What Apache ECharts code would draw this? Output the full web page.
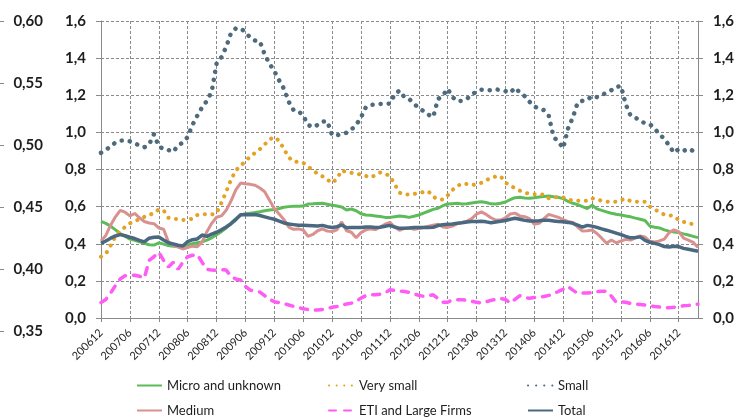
<!DOCTYPE html>
<html>
<head>
<meta charset="utf-8">
<script src="https://cdn.jsdelivr.net/npm/echarts@6/dist/echarts.min.js"></script>
<style>html,body{margin:0;padding:0;background:#fff}#c{width:737px;height:418px}</style>
</head>
<body>
<div id="c"></div>
<script>
// Categories: monthly, 200612 .. 201704
var categories = [];
(function(){ var y=2006,m=12; for(var i=0;i<125;i++){ categories.push(String(y)+(m<10?'0':'')+m); m++; if(m>12){m=1;y++;} } })();

var microUnknown = [0.52,0.51,0.495,0.475,0.455,0.44,0.425,0.418,0.41,0.402,0.395,0.393,0.405,0.398,0.39,0.387,0.385,0.387,0.393,0.4,0.405,0.41,0.42,0.432,0.448,0.465,0.485,0.51,0.535,0.555,0.56,0.565,0.568,0.572,0.578,0.582,0.584,0.59,0.597,0.6,0.602,0.602,0.603,0.614,0.615,0.617,0.618,0.613,0.607,0.603,0.598,0.582,0.587,0.578,0.562,0.555,0.553,0.55,0.547,0.542,0.542,0.546,0.549,0.547,0.542,0.548,0.555,0.565,0.575,0.585,0.591,0.605,0.614,0.616,0.618,0.614,0.616,0.62,0.623,0.626,0.622,0.615,0.614,0.618,0.625,0.638,0.648,0.65,0.647,0.645,0.648,0.652,0.655,0.657,0.653,0.65,0.643,0.628,0.618,0.611,0.6,0.59,0.607,0.588,0.58,0.572,0.564,0.559,0.555,0.55,0.545,0.538,0.532,0.525,0.495,0.489,0.485,0.475,0.468,0.463,0.46,0.453,0.447,0.44,0.433];

var verySmall = [0.33,0.345,0.39,0.44,0.47,0.49,0.51,0.522,0.532,0.545,0.555,0.565,0.585,0.58,0.54,0.535,0.533,0.528,0.53,0.535,0.555,0.558,0.56,0.558,0.565,0.62,0.68,0.745,0.795,0.82,0.845,0.87,0.89,0.91,0.935,0.962,0.974,0.955,0.91,0.865,0.843,0.84,0.836,0.815,0.798,0.776,0.763,0.745,0.727,0.75,0.795,0.786,0.782,0.778,0.772,0.765,0.757,0.77,0.784,0.778,0.765,0.72,0.675,0.665,0.665,0.668,0.674,0.678,0.683,0.653,0.64,0.638,0.66,0.69,0.71,0.725,0.722,0.716,0.72,0.728,0.742,0.755,0.762,0.764,0.73,0.712,0.7,0.686,0.675,0.67,0.667,0.667,0.665,0.645,0.65,0.652,0.649,0.64,0.631,0.631,0.631,0.632,0.645,0.64,0.631,0.627,0.626,0.626,0.635,0.643,0.63,0.626,0.626,0.626,0.6,0.585,0.57,0.557,0.553,0.55,0.527,0.518,0.512,0.504,0.5];

var small = [0.89,0.905,0.925,0.945,0.955,0.957,0.952,0.94,0.93,0.92,0.935,0.99,0.925,0.91,0.905,0.895,0.93,0.945,0.975,1.04,1.09,1.135,1.17,1.22,1.37,1.405,1.46,1.535,1.56,1.56,1.54,1.51,1.495,1.49,1.42,1.37,1.33,1.28,1.235,1.165,1.12,1.115,1.09,1.04,1.028,1.04,1.058,1.06,0.985,0.985,0.99,0.998,1.015,1.04,1.08,1.135,1.148,1.151,1.153,1.154,1.155,1.205,1.225,1.19,1.18,1.155,1.13,1.115,1.095,1.083,1.18,1.198,1.235,1.19,1.168,1.17,1.18,1.205,1.218,1.23,1.228,1.227,1.232,1.228,1.222,1.213,1.24,1.215,1.195,1.165,1.14,1.127,1.12,1.09,0.975,0.95,0.915,1.02,1.08,1.16,1.17,1.175,1.196,1.19,1.2,1.215,1.227,1.245,1.25,1.15,1.09,1.08,1.06,1.05,1.044,1.02,0.99,0.965,0.93,0.89,0.91,0.9,0.912,0.9,0.895];

var medium = [0.415,0.445,0.5,0.545,0.58,0.57,0.55,0.563,0.54,0.52,0.512,0.508,0.485,0.478,0.41,0.392,0.382,0.372,0.38,0.387,0.384,0.41,0.465,0.51,0.543,0.55,0.58,0.63,0.69,0.727,0.723,0.72,0.715,0.7,0.68,0.635,0.59,0.56,0.53,0.49,0.478,0.48,0.474,0.44,0.45,0.47,0.48,0.468,0.466,0.475,0.518,0.47,0.462,0.432,0.46,0.475,0.48,0.476,0.49,0.505,0.515,0.49,0.472,0.483,0.486,0.478,0.482,0.488,0.495,0.5,0.505,0.49,0.488,0.495,0.508,0.515,0.522,0.535,0.56,0.572,0.558,0.54,0.528,0.528,0.54,0.56,0.565,0.55,0.546,0.535,0.505,0.51,0.535,0.558,0.55,0.542,0.53,0.52,0.515,0.49,0.468,0.47,0.474,0.455,0.43,0.403,0.42,0.405,0.415,0.424,0.42,0.432,0.442,0.436,0.413,0.41,0.415,0.425,0.46,0.475,0.465,0.43,0.42,0.408,0.38];

var etiLarge = [0.083,0.1,0.135,0.175,0.21,0.228,0.23,0.23,0.225,0.215,0.31,0.33,0.355,0.31,0.275,0.3,0.262,0.3,0.33,0.338,0.342,0.3,0.262,0.258,0.257,0.26,0.258,0.225,0.21,0.205,0.17,0.15,0.145,0.14,0.12,0.1,0.088,0.083,0.078,0.07,0.063,0.056,0.05,0.046,0.042,0.043,0.046,0.05,0.058,0.062,0.07,0.075,0.08,0.09,0.107,0.12,0.125,0.125,0.128,0.135,0.152,0.148,0.145,0.143,0.138,0.13,0.122,0.117,0.12,0.125,0.105,0.085,0.085,0.097,0.098,0.098,0.095,0.09,0.085,0.08,0.087,0.095,0.1,0.105,0.1,0.08,0.1,0.12,0.11,0.107,0.11,0.113,0.116,0.122,0.13,0.143,0.155,0.17,0.15,0.133,0.134,0.135,0.136,0.142,0.144,0.144,0.118,0.085,0.088,0.085,0.078,0.075,0.073,0.07,0.066,0.062,0.059,0.056,0.055,0.058,0.062,0.066,0.068,0.072,0.075];

var total = [0.402,0.415,0.43,0.442,0.449,0.443,0.435,0.428,0.418,0.41,0.43,0.435,0.436,0.42,0.405,0.399,0.392,0.388,0.412,0.422,0.426,0.447,0.44,0.452,0.462,0.475,0.49,0.508,0.53,0.556,0.557,0.556,0.558,0.552,0.545,0.538,0.532,0.522,0.512,0.506,0.503,0.5,0.499,0.498,0.497,0.496,0.499,0.492,0.488,0.492,0.501,0.486,0.487,0.488,0.488,0.49,0.49,0.488,0.489,0.494,0.499,0.49,0.483,0.484,0.485,0.487,0.488,0.487,0.488,0.489,0.498,0.502,0.505,0.507,0.51,0.513,0.517,0.52,0.52,0.521,0.518,0.513,0.517,0.521,0.525,0.532,0.537,0.532,0.526,0.522,0.523,0.524,0.527,0.526,0.523,0.52,0.518,0.515,0.51,0.5,0.49,0.499,0.495,0.488,0.48,0.473,0.465,0.457,0.449,0.44,0.432,0.434,0.437,0.418,0.408,0.402,0.395,0.385,0.382,0.387,0.384,0.375,0.37,0.365,0.36];

var seriesNames = ['Micro and unknown','Very small','Small','Medium','ETI and Large Firms','Total'];

var FONT = 'Lato';
var gridColor = '#8a8a8a';
var labelColor = '#1e1e1e';
function fmt1(v){ return v.toFixed(1).replace('.', ','); }
function fmt2(v){ return v.toFixed(2).replace('.', ','); }

var chart = echarts.init(document.getElementById('c'), null, {renderer:'canvas'});
var mainY = {
  type:'value', min:0, max:1.6, interval:0.2, gridIndex:0,
  axisLine:{show:true, lineStyle:{color:gridColor, width:1}},
  axisTick:{show:true, length:5, lineStyle:{color:gridColor}},
  splitLine:{show:true, lineStyle:{color:gridColor, type:[3,2], width:1}},
  axisLabel:{formatter:fmt1, fontFamily:FONT, fontWeight:'bold', fontSize:15, color:labelColor, margin:15}
};
var rightY = {
  type:'value', min:0, max:1.6, interval:0.2, gridIndex:0, position:'right',
  axisLine:{show:true, lineStyle:{color:gridColor, width:1}},
  axisTick:{show:true, length:5, lineStyle:{color:gridColor}},
  splitLine:{show:false},
  axisLabel:{formatter:fmt1, fontFamily:FONT, fontWeight:'bold', fontSize:15, color:labelColor, margin:15}
};

function legendCol(names, left){
  return {data:names, orient:'vertical', left:left, top:379, bottom:0, padding:0,
    itemWidth:25, itemHeight:12, itemGap:12,
    itemStyle:{opacity:0},
    textStyle:{fontFamily:FONT, fontSize:13, color:labelColor}};
}

var option = {
  animation:false,
  backgroundColor:'#ffffff',
  grid:[
    {left:101, right:39, top:21, bottom:100, containLabel:false},
    {left:4, width:1, top:21, bottom:87, containLabel:false}
  ],
  xAxis:[
    {type:'category', data:categories, gridIndex:0, boundaryGap:false,
     axisLine:{show:true, lineStyle:{color:gridColor}},
     axisTick:{show:true, interval:5, length:4, lineStyle:{color:gridColor}},
     splitLine:{show:true, interval:5, lineStyle:{color:gridColor, type:[3,2]}},
     axisLabel:{interval:5, rotate:45, fontFamily:FONT, fontSize:11, color:labelColor, margin:13}},
    {type:'value', gridIndex:1, show:false, min:0, max:1}
  ],
  yAxis:[
    mainY,
    rightY,
    {type:'value', gridIndex:1, min:0.35, max:0.6, interval:0.05, position:'left',
     axisLine:{show:false},
     axisTick:{show:true, length:4, lineStyle:{color:gridColor}},
     splitLine:{show:false},
     axisLabel:{inside:true, align:'right', margin:39, formatter:fmt2, fontFamily:FONT, fontWeight:'bold', fontSize:15, color:labelColor}}
  ],
  legend:[
    legendCol(['Micro and unknown','Medium'], 136),
    legendCol(['Very small','ETI and Large Firms'], 328),
    legendCol(['Small','Total'], 527)
  ],
  series:[
    {name:seriesNames[0], type:'line', data:microUnknown, symbol:'none',
     lineStyle:{color:'#5DBB5A', width:3}, itemStyle:{color:'#5DBB5A'}},
    {name:seriesNames[1], type:'line', data:verySmall, symbol:'none',
     lineStyle:{color:'#E3A224', width:4, type:[0.1,7.5], cap:'round'}, itemStyle:{color:'#E3A224'}},
    {name:seriesNames[2], type:'line', data:small, symbol:'none',
     lineStyle:{color:'#4E6B7E', width:4.5, type:[0.1,8], cap:'round'}, itemStyle:{color:'#4E6B7E'}},
    {name:seriesNames[3], type:'line', data:medium, symbol:'none',
     lineStyle:{color:'#D9918F', width:3}, itemStyle:{color:'#D9918F'}},
    {name:seriesNames[4], type:'line', data:etiLarge, symbol:'none',
     lineStyle:{color:'#FF5CF5', width:3.5, type:[7,8], cap:'round'}, itemStyle:{color:'#FF5CF5'}},
    {name:seriesNames[5], type:'line', data:total, symbol:'none',
     lineStyle:{color:'#4A6980', width:3.5}, itemStyle:{color:'#4A6980'}}
  ]
};
chart.setOption(option);
</script>
</body>
</html>
